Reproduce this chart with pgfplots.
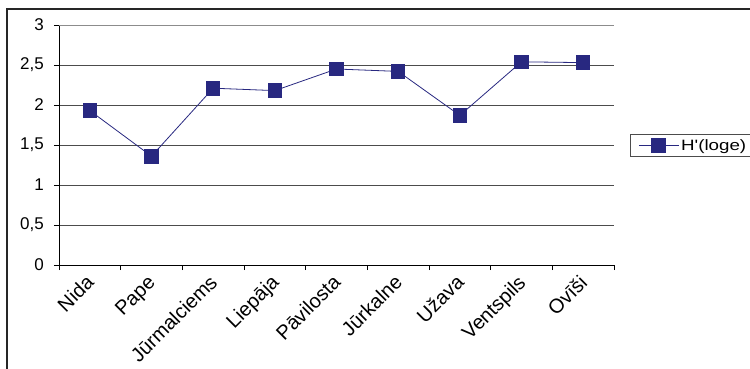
\documentclass[border=0pt]{standalone}
\usepackage{pgfplots}
\pgfplotsset{compat=1.18}
\usepackage{fontspec}
\setmainfont{Liberation Sans}
\definecolor{navy}{RGB}{40,40,128}
\begin{document}
\begin{tikzpicture}[x=1pt,y=1pt]
\begin{axis}[
 at={(59pt,103pt)}, anchor=south west,
 scale only axis, width=555pt, height=240pt,
 xmin=-0.5, xmax=8.5, ymin=0, ymax=3,
 axis lines*=left, axis line style={-, black, line width=0.9pt},
 xtick={0,...,8},
 xticklabels={Nida,Pape,Jūrmalciems,Liepāja,Pāvilosta,Jūrkalne,Užava,Ventspils,Ovīši},
 minor xtick={-0.5,0.5,...,8.5},
 major x tick style={draw=none},
 minor x tick style={black, line width=0.9pt},
 y tick style={black, line width=0.9pt},
 minor tick length=5pt, major tick length=5pt, tick align=outside,
 ytick={0,0.5,...,3},
 ymajorgrids, major grid style={black!70, line width=0.9pt},
 /pgf/number format/use comma, /pgf/number format/fixed, /pgf/number format/assume math mode=true,
 yticklabel style={font=\fontsize{17}{19}\selectfont, inner sep=0pt, xshift=-10pt},
 xticklabel style={font=\fontsize{20}{22}\selectfont, xshift=-5pt, yshift=-2pt, rotate=45, anchor=north east, inner sep=1pt},
 legend style={at={(1.0288,0.498)}, anchor=west, draw=black!70, line width=0.8pt,
   font=\fontsize{15}{17}\selectfont, inner ysep=2.5pt, inner xsep=8pt},
 legend image code/.code={\draw[#1,mark repeat=2,mark phase=2] plot coordinates {(0pt,0pt)(20pt,0pt)(40pt,0pt)};},
]
\addplot[color=navy, line width=0.8pt, mark=square*, mark size=6.8pt, mark options={fill=navy, draw=navy, line width=0pt}]
 coordinates {(0,1.93)(1,1.36)(2,2.21)(3,2.18)(4,2.45)(5,2.42)(6,1.87)(7,2.54)(8,2.53)};
\addlegendentry{\scalebox{1.25}[1]{H\textquotesingle(loge)}}
\draw[black!45, line width=0.9pt] (rel axis cs:0,1) -- (rel axis cs:1,1) -- (rel axis cs:1,0);
\end{axis}
\draw[line width=1.2pt, black!85] (7,-20) rectangle (770,359);
\pgfresetboundingbox
\path[use as bounding box] (0,0) rectangle (750,368);
\end{tikzpicture}
\end{document}
